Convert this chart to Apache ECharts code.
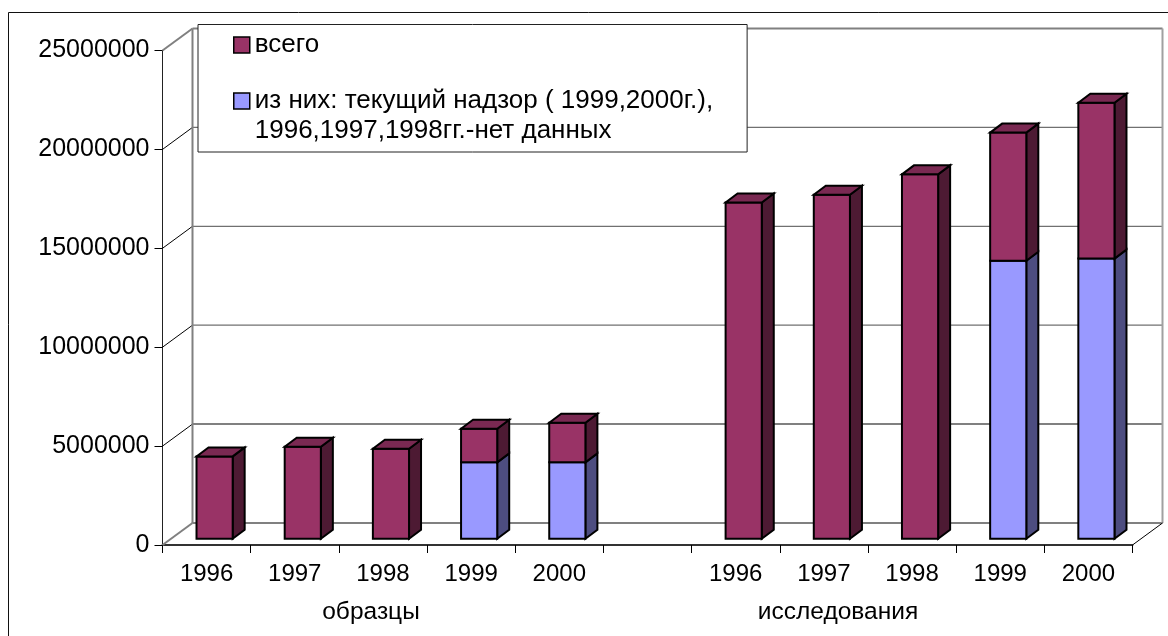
<!DOCTYPE html>
<html>
<head>
<meta charset="utf-8">
<style>html,body{margin:0;padding:0;background:#fff}#chart{width:1168px;height:636px}</style>
<script src="https://cdn.jsdelivr.net/npm/echarts@6/dist/echarts.min.js"></script>
</head>
<body>
<div id="chart"></div>
<script>
// Annual counts of samples and tests, 1996-2000
var categories = ['1996', '1997', '1998', '1999', '2000', '', '1996', '1997', '1998', '1999', '2000'];
var totalValues = [4160000, 4650000, 4550000, 5560000, 5860000, null, 17000000, 17390000, 18420000, 20530000, 22040000];
var supervisionValues = [null, null, null, 3860000, 3860000, null, null, null, null, 14050000, 14160000];
var yTicks = [0, 5000000, 10000000, 15000000, 20000000, 25000000];
var totalName = 'всего';
var supervisionName = 'из них: текущий надзор ( 1999,2000г.),\n1996,1997,1998гг.-нет данных';

var FONT = '"Liberation Sans", Arial, sans-serif';
var WINE = { front: '#993366', side: '#4d1a33', top: '#7a2952' };
var BLUE = { front: '#9999ff', side: '#4d4d80', top: '#7a7acc' };
// Oblique projection used for the walls and the boxes, in pixels
var WALL_DX = 30, WALL_DY = 22;
var BAR_DX = 8, BAR_DY = 6.3, BOX_DX = 12, BOX_DY = 9;
var BAR_SHARE = 0.41;

function poly(points, fill, lineWidth) {
  return {
    type: 'polygon',
    shape: { points: points },
    style: { fill: fill, stroke: '#000', lineWidth: lineWidth, lineJoin: 'miter' }
  };
}

// Draws a box from base to value in front of the back wall
function boxRenderer(palette, drawTop) {
  return function (params, api) {
    var i = api.value(0), value = api.value(1), base = api.value(2);
    var w = api.size([1, 0])[0] * BAR_SHARE;
    var a = api.coord([i, base]), b = api.coord([i, value]);
    var x0 = a[0] - w / 2 + BAR_DX, x1 = x0 + w;
    var y0 = a[1] - BAR_DY, y1 = b[1] - BAR_DY;
    var children = [
      poly([[x1, y0], [x1 + BOX_DX, y0 - BOX_DY], [x1 + BOX_DX, y1 - BOX_DY], [x1, y1]], palette.side, 2),
      poly([[x0, y0], [x1, y0], [x1, y1], [x0, y1]], palette.front, 2)
    ];
    if (drawTop) {
      children.push(poly([[x0, y1], [x1, y1], [x1 + BOX_DX, y1 - BOX_DY], [x0 + BOX_DX, y1 - BOX_DY]], palette.top, 2));
    }
    return { type: 'group', children: children };
  };
}

function line(x1, y1, x2, y2, color, width) {
  return {
    type: 'line',
    shape: { x1: x1, y1: y1, x2: x2, y2: y2 },
    style: { stroke: color, lineWidth: width }
  };
}

// Left and right ends of the axis at a given value
function axisEnds(api, v) {
  var half = api.size([1, 0])[0] / 2;
  var first = api.coord([0, v]), last = api.coord([categories.length - 1, v]);
  return [[first[0] - half, first[1]], [last[0] + half, last[1]]];
}

// Back wall rule and side wall diagonal for each value tick
function renderWallTick(params, api) {
  var v = api.value(0);
  var ends = axisEnds(api, v), a = ends[0], b = ends[1];
  var heavy = v === yTicks[0] || v === yTicks[1] || v === yTicks[yTicks.length - 1];
  var width = heavy ? 2 : 1.2;
  var color = heavy ? '#808080' : '#707070';
  var sideHeavy = v === yTicks[0] || v === yTicks[yTicks.length - 1];
  return {
    type: 'group',
    children: [
      line(a[0] + WALL_DX, a[1] - WALL_DY, b[0] + WALL_DX, b[1] - WALL_DY, color, width),
      line(a[0], a[1], a[0] + WALL_DX, a[1] - WALL_DY, sideHeavy ? '#808080' : '#000', sideHeavy ? 2 : 1)
    ]
  };
}

// Wall verticals and the right floor edge
function renderWallFrame(params, api) {
  var lo = axisEnds(api, yTicks[0]);
  var hi = axisEnds(api, yTicks[yTicks.length - 1]);
  return {
    type: 'group',
    children: [
      line(lo[0][0] + WALL_DX, lo[0][1] - WALL_DY, hi[0][0] + WALL_DX, hi[0][1] - WALL_DY, '#808080', 2),
      line(lo[1][0] + WALL_DX, lo[1][1] - WALL_DY, hi[1][0] + WALL_DX, hi[1][1] - WALL_DY, '#a0a0a0', 2),
      line(lo[1][0], lo[1][1], lo[1][0] + WALL_DX, lo[1][1] - WALL_DY, '#000', 1)
    ]
  };
}

var totalRows = [], supervisionRows = [];
categories.forEach(function (c, i) {
  if (totalValues[i] !== null) {
    totalRows.push([i, totalValues[i], supervisionValues[i] === null ? 0 : supervisionValues[i]]);
  }
  if (supervisionValues[i] !== null) {
    supervisionRows.push([i, supervisionValues[i], 0]);
  }
});

var chart = echarts.init(document.getElementById('chart'), null, { renderer: 'canvas' });
chart.setOption({
  animation: false,
  backgroundColor: '#fff',
  textStyle: { fontFamily: FONT },
  grid: { left: 162.5, right: 35.5, top: 50.5, bottom: 91, containLabel: false },
  xAxis: {
    type: 'category',
    data: categories,
    boundaryGap: true,
    axisLine: { show: true, lineStyle: { color: '#333', width: 2 } },
    axisTick: { show: true, length: 8, interval: 0, lineStyle: { color: '#000', width: 1 } },
    axisLabel: { show: true, interval: 0, margin: 17, fontSize: 24, color: '#000', fontFamily: FONT },
    splitLine: { show: false }
  },
  yAxis: {
    type: 'value',
    min: 0,
    max: 25000000,
    interval: 5000000,
    axisLine: { show: true, lineStyle: { color: '#222', width: 1 } },
    axisTick: { show: true, length: 8, lineStyle: { color: '#000', width: 1 } },
    axisLabel: {
      show: true,
      margin: 13,
      fontSize: 25,
      color: '#000',
      fontFamily: FONT,
      formatter: function (v) { return String(v); }
    },
    splitLine: { show: false }
  },
  legend: {
    show: true,
    selectedMode: false,
    orient: 'vertical',
    left: 198,
    top: 24.5,
    padding: [5.5, 34, 6, 35],
    itemGap: -4,
    itemWidth: 16,
    itemHeight: 16,
    icon: 'rect',
    align: 'left',
    backgroundColor: '#fff',
    borderColor: '#222',
    borderWidth: 1,
    itemStyle: { borderColor: '#000', borderWidth: 1.5 },
    textStyle: { fontFamily: FONT, fontSize: 26, color: '#000', lineHeight: 30 },
    // A blank first line keeps the swatch level with the first line of a two-line entry
    formatter: function (name) {
      return name.indexOf('\n') >= 0 ? '\n' + name : name;
    },
    data: [
      { name: totalName, icon: 'rect' },
      { name: supervisionName, icon: 'rect' }
    ]
  },
  graphic: [
    {
      type: 'rect',
      silent: true,
      z: -10,
      shape: { x: 8.5, y: 12.5, width: 1300, height: 800 },
      style: { fill: 'none', stroke: '#111', lineWidth: 1 }
    },
    {
      type: 'text',
      style: { x: 371, y: 612, text: 'образцы', fill: '#000', font: '24.5px ' + FONT, align: 'center', verticalAlign: 'middle' }
    },
    {
      type: 'text',
      style: { x: 838, y: 612, text: 'исследования', fill: '#000', font: '24.5px ' + FONT, align: 'center', verticalAlign: 'middle' }
    }
  ],
  series: [
    {
      type: 'custom',
      name: 'wall ticks',
      silent: true,
      z: 1,
      coordinateSystem: 'cartesian2d',
      renderItem: renderWallTick,
      encode: { y: 0 },
      data: yTicks.map(function (t) { return [t]; })
    },
    {
      type: 'custom',
      name: 'wall frame',
      silent: true,
      z: 1,
      coordinateSystem: 'cartesian2d',
      renderItem: renderWallFrame,
      data: [[0]]
    },
    {
      type: 'custom',
      name: supervisionName,
      z: 3,
      coordinateSystem: 'cartesian2d',
      itemStyle: { color: BLUE.front },
      renderItem: boxRenderer(BLUE, false),
      encode: { x: 0, y: 1 },
      data: supervisionRows
    },
    {
      type: 'custom',
      name: totalName,
      z: 4,
      coordinateSystem: 'cartesian2d',
      itemStyle: { color: WINE.front },
      renderItem: boxRenderer(WINE, true),
      encode: { x: 0, y: 1 },
      data: totalRows
    }
  ]
});
</script>
</body>
</html>
